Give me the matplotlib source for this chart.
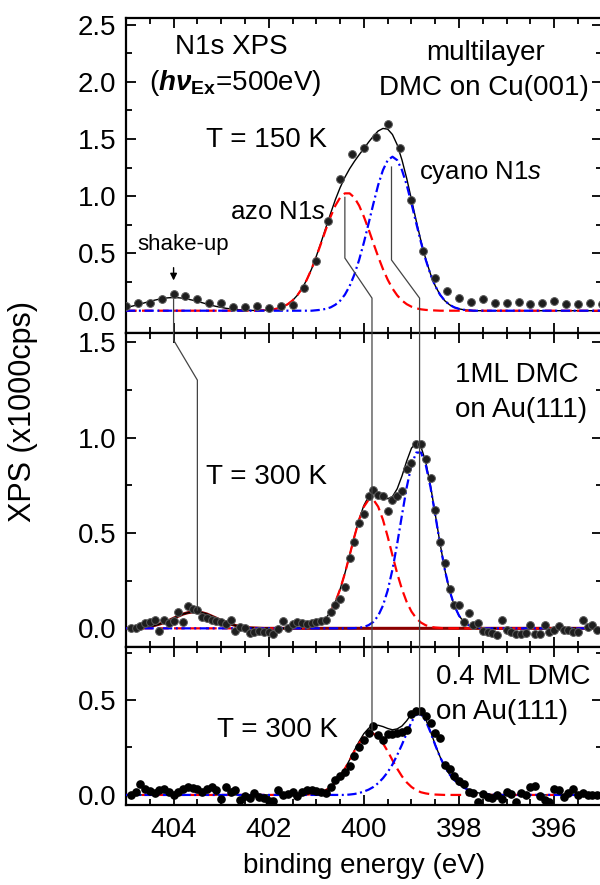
import numpy as np
import matplotlib
matplotlib.use('Agg')
import matplotlib.pyplot as plt
from matplotlib.lines import Line2D
from matplotlib.ticker import MultipleLocator

plt.rcParams['font.family'] = ['Liberation Sans', 'DejaVu Sans']
plt.rcParams['mathtext.fontset'] = 'custom'
plt.rcParams['mathtext.rm'] = 'Liberation Sans'
plt.rcParams['mathtext.it'] = 'Liberation Sans:italic'
plt.rcParams['mathtext.bf'] = 'Liberation Sans:bold:italic'
plt.rcParams['mathtext.sf'] = 'Liberation Sans:bold'

#------------------------------------------------------------------------
# measured N1s points (x1000 cps)
# multilayer, 150 K : one point every 0.25 eV starting at 405.0 eV
top_xps = [0.04, 0.065, 0.065, 0.10, 0.15, 0.13, 0.10, 0.065, 0.065, 0.035,
           0.03, 0.04, 0.02, 0.04, 0.05, 0.20, 0.43, 0.78, 1.15, 1.37,
           1.42, 1.52, 1.63, 1.42, 0.97, 0.52, 0.29, 0.175, 0.115, 0.08,
           0.10, 0.07, 0.07, 0.08, 0.055, 0.07, 0.085, 0.06, 0.06, 0.07,
           0.055]
# 1ML, 300 K : one point every 0.1 eV starting at 404.9 eV
mid_xps = [0.0, 0.0, 0.014, 0.026, 0.031, 0.045, -0.012, 0.044, 0.026, 0.040,
           0.087, 0.035, 0.119, 0.101, 0.096, 0.061, 0.052, 0.044, 0.040, 0.035,
           0.021, 0.044, -0.014, 0.009, 0.003, -0.026, -0.021, -0.014, -0.017, -0.021,
           -0.031, -0.005, 0.038, 0.0, 0.021, 0.035, 0.030, 0.023, 0.030, 0.035,
           0.040, 0.044, 0.087, 0.122, 0.152, 0.215, 0.371, 0.455, 0.554, 0.598,
           0.694, 0.726, 0.699, 0.694, 0.615, 0.673, 0.694, 0.722, 0.834, 0.869,
           0.965, 0.965, 0.886, 0.787, 0.621, 0.455, 0.341, 0.206, 0.122, 0.122,
           0.035, 0.079, 0.020, 0.026, -0.012, -0.020, -0.026, -0.033, 0.042, -0.010,
           -0.017, -0.032, -0.032, -0.022, 0.017, -0.028, -0.028, 0.015, -0.020, -0.010,
           0.010, -0.007, -0.007, -0.017, -0.020, 0.045, 0.006, 0.020, -0.009]
# 0.4 ML, 300 K : one point every 0.1 eV starting at 404.9 eV
bot_xps = [0.0, 0.018, 0.056, 0.032, 0.021, 0.009, 0.026, 0.032, 0.014, 0.0,
           0.018, 0.032, 0.044, 0.039, 0.032, 0.018, 0.030, 0.044, 0.026, -0.020,
           0.044, 0.018, 0.026, -0.026, -0.005, -0.018, 0.009, -0.009, -0.014, -0.032,
           -0.032, 0.026, 0.0, 0.004, 0.018, -0.005, 0.018, 0.026, 0.026, 0.023,
           0.018, 0.010, 0.044, 0.079, 0.100, 0.120, 0.150, 0.205, 0.251, 0.291,
           0.325, 0.363, 0.318, 0.289, 0.322, 0.320, 0.326, 0.333, 0.340, 0.426,
           0.444, 0.440, 0.416, 0.377, 0.325, 0.300, 0.156, 0.134, 0.100, 0.075,
           0.060, 0.015, 0.009, -0.035, 0.005, -0.010, -0.015, 0.0, -0.023, 0.015,
           0.005, -0.035, 0.012, 0.0, 0.040, 0.047, -0.005, -0.026, -0.035, 0.030,
           0.026, -0.009, 0.009, 0.030, 0.0, 0.012, 0.0, 0.0, 0.0]

# fit components, one value every 0.1 eV from the given start energy
top_shake = (405.0, [0.029, 0.037, 0.047, 0.058, 0.070, 0.081, 0.092, 0.101, 0.109, 0.113,
                     0.115, 0.113, 0.109, 0.101, 0.092, 0.081, 0.070, 0.058, 0.047, 0.037,
                     0.029, 0.021, 0.016, 0.011, 0.008, 0.005, 0.003, 0.002, 0.001])
top_azo = (402.2, [0.002, 0.004, 0.007, 0.012, 0.021, 0.035, 0.057, 0.089, 0.134, 0.194,
                   0.271, 0.364, 0.472, 0.589, 0.709, 0.821, 0.918, 0.988, 1.025, 1.025,
                   0.988, 0.918, 0.821, 0.709, 0.589, 0.472, 0.364, 0.271, 0.194, 0.134,
                   0.089, 0.057, 0.035, 0.021, 0.012, 0.007, 0.004, 0.002])
top_cyano = (401.0, [0.004, 0.008, 0.016, 0.029, 0.052, 0.087, 0.140, 0.215, 0.316, 0.444,
                     0.596, 0.764, 0.936, 1.098, 1.228, 1.315, 1.345, 1.315, 1.228, 1.098,
                     0.936, 0.764, 0.596, 0.444, 0.316, 0.215, 0.140, 0.087, 0.052, 0.029,
                     0.016, 0.008, 0.004])
mid_shake = (405.0, [0.001, 0.001, 0.002, 0.003, 0.006, 0.009, 0.015, 0.022, 0.031, 0.041,
                     0.053, 0.064, 0.075, 0.082, 0.086, 0.086, 0.082, 0.075, 0.064, 0.053,
                     0.041, 0.031, 0.022, 0.015, 0.009, 0.006, 0.003, 0.002, 0.001])
mid_azo = (401.3, [0.002, 0.004, 0.008, 0.016, 0.030, 0.053, 0.088, 0.138, 0.205, 0.288,
                   0.383, 0.481, 0.570, 0.638, 0.675, 0.675, 0.638, 0.570, 0.481, 0.383,
                   0.288, 0.205, 0.138, 0.088, 0.053, 0.030, 0.016, 0.008, 0.004, 0.002])
mid_cyano = (400.2, [0.001, 0.003, 0.007, 0.017, 0.034, 0.066, 0.119, 0.199, 0.308, 0.444,
                     0.594, 0.740, 0.857, 0.922, 0.922, 0.857, 0.740, 0.594, 0.444, 0.308,
                     0.199, 0.119, 0.066, 0.034, 0.017, 0.007, 0.003, 0.001])
bot_azo = (401.3, [0.001, 0.002, 0.004, 0.008, 0.014, 0.025, 0.042, 0.066, 0.098, 0.138,
                   0.183, 0.230, 0.272, 0.305, 0.323, 0.323, 0.305, 0.272, 0.230, 0.183,
                   0.138, 0.098, 0.066, 0.042, 0.025, 0.014, 0.008, 0.004, 0.002, 0.001])
bot_cyano = (400.3, [0.002, 0.005, 0.010, 0.018, 0.028, 0.042, 0.062, 0.088, 0.120, 0.160,
                     0.210, 0.265, 0.325, 0.385, 0.425, 0.425, 0.390, 0.330, 0.262, 0.200,
                     0.148, 0.108, 0.078, 0.055, 0.038, 0.026, 0.017, 0.011, 0.007, 0.004,
                     0.002, 0.001])

fit_e = np.round(np.arange(405.0, 394.95, -0.1), 1)

def on_grid(comp):
    start, vals = comp
    y = np.zeros(len(fit_e))
    i = int(round((405.0 - start) * 10))
    y[i:i + len(vals)] = vals
    return y

#------------------------------------------------------------------------
fig = plt.figure(figsize=(6, 8.85), dpi=100)
L, W = 0.21, 0.793
ax_top = fig.add_axes([L, 0.6237, W, 0.3556])
ax_mid = fig.add_axes([L, 0.2689, W, 0.3548])
ax_bot = fig.add_axes([L, 0.0904, W, 0.1785])

red_ls = (0, (4.8, 2.4))
blue_ls = (0, (4.2, 1.6, 0.9, 1.6))

panels = [
    (ax_top, 405.0, 0.25, top_xps, [top_shake], top_azo, top_cyano, (-0.195, 2.554)),
    (ax_mid, 404.9, 0.1, mid_xps, [mid_shake], mid_azo, mid_cyano, (-0.098, 1.549)),
    (ax_bot, 404.9, 0.1, bot_xps, [], bot_azo, bot_cyano, (-0.053, 0.779)),
]

for ax, e0, step, xps, extra, azo, cyano, ylim in panels:
    azo_y = on_grid(azo)
    cy_y = on_grid(cyano)
    total = azo_y + cy_y
    for comp in extra:
        total = total + on_grid(comp)
    if ax is ax_mid:
        ax.plot(fit_e, on_grid(mid_shake), color='#8b0000', lw=2.2, zorder=1)
    ax.plot(fit_e, total, color='k', lw=1.0, zorder=2)
    ax.plot(fit_e, azo_y, color='#ff0000', lw=1.6, ls=red_ls, zorder=3)
    ax.plot(fit_e, cy_y, color='#0000ff', lw=1.6, ls=blue_ls, zorder=3)
    e = e0 - step * np.arange(len(xps))
    if ax is ax_bot:
        ax.plot(e, xps, 'o', ms=5.2, color='k', zorder=5)
    else:
        ax.plot(e, xps, 'o', ms=5.6, mfc='#1e1e1e', mec='#5a5a5a', mew=0.7, zorder=5)

    ax.set_xlim(405, 395)
    ax.set_ylim(*ylim)
    ax.xaxis.set_major_locator(MultipleLocator(2))
    ax.xaxis.set_minor_locator(MultipleLocator(0.5))
    ax.yaxis.set_major_locator(MultipleLocator(0.5))
    ax.yaxis.set_minor_locator(MultipleLocator(0.25))
    ax.tick_params(which='both', direction='in', top=True, right=True, width=1.3,
                   labelsize=20, pad=7)
    ax.tick_params(which='major', length=7)
    ax.tick_params(which='minor', length=4)
    ax.yaxis.set_major_formatter(matplotlib.ticker.FormatStrFormatter('%.1f'))
    for s in ax.spines.values():
        s.set_linewidth(1.6)
    if ax is not ax_bot:
        ax.tick_params(axis='x', labelbottom=False)
    else:
        ax.tick_params(axis='x', pad=9)

ax_top.set_yticks([0.0, 0.5, 1.0, 1.5, 2.0, 2.5])
ax_mid.set_yticks([0.0, 0.5, 1.0, 1.5])
ax_bot.set_yticks([0.0, 0.5])

# texts
fs = 20
ax_top.text(402.78, 2.30, 'N1s XPS', fontsize=fs, ha='center', va='center')
ax_top.text(402.70, 1.99, r'($\mathbf{h\nu}_{\mathsf{Ex}}$=500eV)', fontsize=fs,
            ha='center', va='center')
ax_top.text(397.45, 2.25, 'multilayer', fontsize=fs, ha='center', va='center')
ax_top.text(397.48, 1.945, 'DMC on Cu(001)', fontsize=fs, ha='center', va='center')
ax_top.text(403.31, 1.49, 'T = 150 K', fontsize=fs, ha='left', va='center')
ax_top.text(402.82, 0.86, r'azo N1$\mathit{s}$', fontsize=18.5, ha='left', va='center')
ax_top.text(398.85, 1.21, r'cyano N1$\mathit{s}$', fontsize=18.5, ha='left', va='center')
ax_top.text(404.77, 0.574, 'shake-up', fontsize=16, ha='left', va='center')
ax_top.annotate('', xy=(404.0, 0.24), xytext=(404.0, 0.40),
                arrowprops=dict(arrowstyle='-|>', color='k', lw=1.0, mutation_scale=10))

ax_mid.text(398.08, 1.328, '1ML DMC', fontsize=fs, ha='left', va='center')
ax_mid.text(398.08, 1.145, 'on Au(111)', fontsize=fs, ha='left', va='center')
ax_mid.text(403.31, 0.795, 'T = 300 K', fontsize=fs, ha='left', va='center')

ax_bot.text(398.49, 0.621, '0.4 ML DMC', fontsize=fs, ha='left', va='center')
ax_bot.text(398.49, 0.437, 'on Au(111)', fontsize=fs, ha='left', va='center')
ax_bot.text(403.08, 0.342, 'T = 300 K', fontsize=fs, ha='left', va='center')

fig.text(0.038, 1 - 411 / 885, 'XPS (x1000cps)', fontsize=22, rotation=90,
         ha='center', va='center')
fig.text(364 / 600, 1 - 866 / 885, 'binding energy (eV)', fontsize=fs,
         ha='center', va='center')

# guide lines linking the peaks across the panels
links = [
    [(ax_top, 404.0, 0.10), (ax_mid, 404.0, 1.512), (ax_mid, 403.5, 1.302), (ax_mid, 403.5, 0.096)],
    [(ax_top, 400.4, 0.99), (ax_top, 400.4, 0.46), (ax_top, 399.83, 0.11), (ax_bot, 399.83, 0.342)],
    [(ax_top, 399.42, 1.255), (ax_top, 399.42, 0.443), (ax_top, 398.83, 0.11), (ax_bot, 398.83, 0.421)],
]
to_fig = fig.transFigure.inverted()
for pts in links:
    xy = np.array([to_fig.transform(a.transData.transform((x, y))) for a, x, y in pts])
    fig.add_artist(Line2D(xy[:, 0], xy[:, 1], color='#444444', lw=0.9,
                          transform=fig.transFigure, zorder=4))

fig.savefig('out.png', dpi=100)
